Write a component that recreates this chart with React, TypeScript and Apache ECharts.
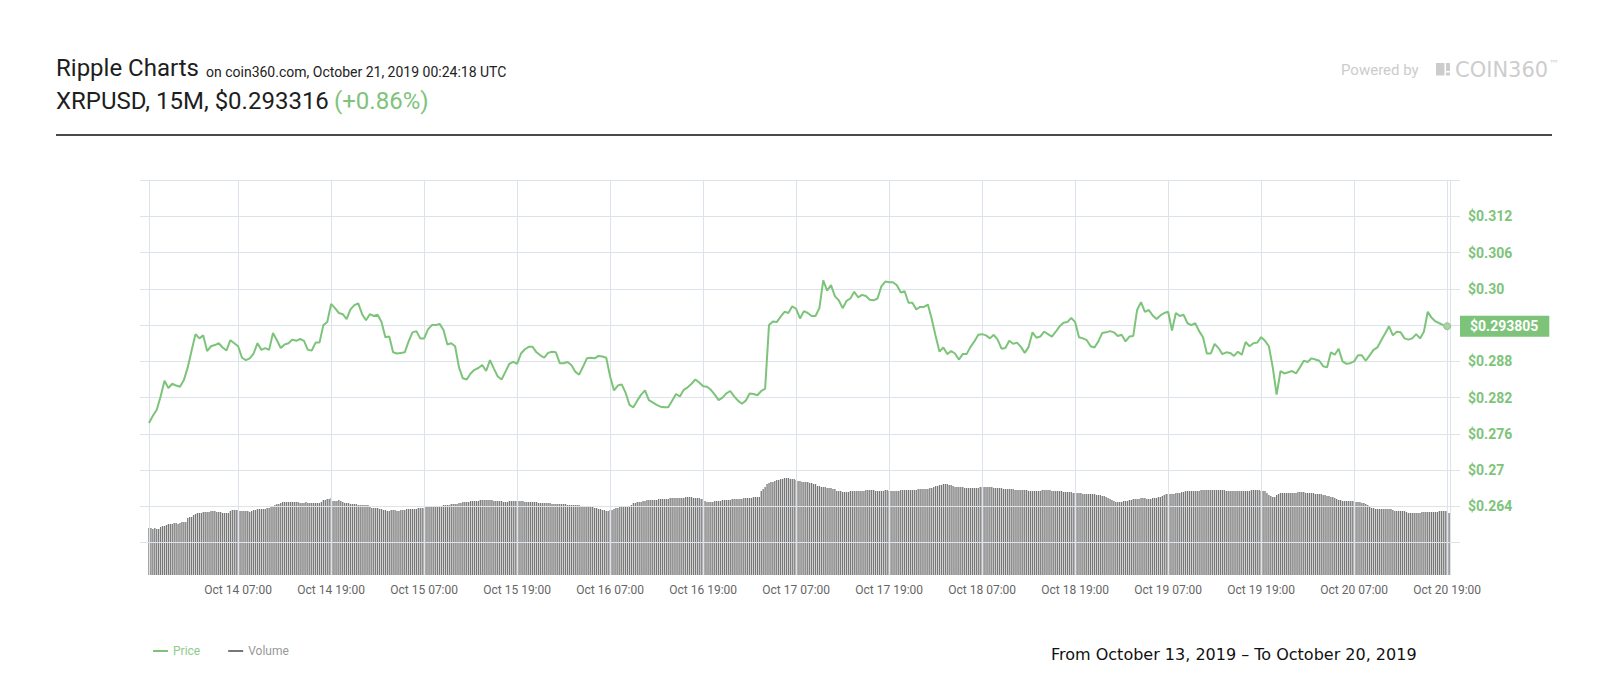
import React, { useEffect, useRef } from "react";
import * as echarts from "echarts";

const GREEN = "#7dc47a";

// x values are hours counted from Oct 13, 2019 07:00 UTC
const priceStartHour = 12.5; // Oct 13 19:30
const priceStepHours = 0.5;
const prices = [
  0.2778, 0.279, 0.28, 0.2822, 0.2848, 0.2836, 0.2843, 0.284, 0.2838, 0.2849, 0.287, 0.2898,
  0.2925, 0.2918, 0.2923, 0.2897, 0.2905, 0.2907, 0.291, 0.2903, 0.2898, 0.2915, 0.291, 0.2905,
  0.2886, 0.2882, 0.2885, 0.2893, 0.291, 0.2899, 0.2902, 0.2899, 0.2927, 0.2915, 0.2902, 0.2908,
  0.291, 0.2916, 0.2914, 0.2917, 0.2914, 0.2899, 0.2898, 0.2911, 0.2911, 0.294, 0.2945, 0.2975,
  0.2968, 0.296, 0.2958, 0.295, 0.2966, 0.2973, 0.2976, 0.2958, 0.2948, 0.2958, 0.2955, 0.2957,
  0.2945, 0.292, 0.2921, 0.2895, 0.2893, 0.2894, 0.2895, 0.2913, 0.2928, 0.293, 0.2918, 0.2918,
  0.2933, 0.294, 0.294, 0.2942, 0.2932, 0.2908, 0.291, 0.2905, 0.287, 0.2852, 0.285, 0.286,
  0.2866, 0.2869, 0.2874, 0.2864, 0.2882, 0.2868, 0.2855, 0.285, 0.2863, 0.2876, 0.2879, 0.2876,
  0.2893, 0.29, 0.2904, 0.2904, 0.2895, 0.289, 0.2886, 0.2894, 0.2896, 0.2895, 0.2877, 0.2877,
  0.2879, 0.2874, 0.2863, 0.2858, 0.2871, 0.2885, 0.2886, 0.2885, 0.2889, 0.2888, 0.2886, 0.2855,
  0.2832, 0.284, 0.2842, 0.2828, 0.2808, 0.2804, 0.2815, 0.2825, 0.2832, 0.2816, 0.2812, 0.2808,
  0.2805, 0.2804, 0.2804, 0.2815, 0.2826, 0.2822, 0.2833, 0.2837, 0.2843, 0.285, 0.2845, 0.2839,
  0.2838, 0.2833, 0.2825, 0.2816, 0.282, 0.2827, 0.2831, 0.2822, 0.2815, 0.281, 0.2815, 0.2827,
  0.2826, 0.2824, 0.2831, 0.2835, 0.294, 0.2946, 0.2945, 0.2954, 0.2962, 0.296, 0.2971, 0.2967,
  0.2951, 0.2963, 0.296, 0.2955, 0.2955, 0.2968, 0.3014, 0.2997, 0.3006, 0.2988, 0.2981, 0.2968,
  0.298, 0.2984, 0.2995, 0.2986, 0.299, 0.2988, 0.2982, 0.2981, 0.2984, 0.3004, 0.3012, 0.3011,
  0.3011, 0.3006, 0.2994, 0.2996, 0.2977, 0.2977, 0.2966, 0.297, 0.297, 0.2974, 0.295, 0.2922,
  0.2896, 0.2903, 0.2892, 0.2897, 0.2893, 0.2883, 0.2892, 0.2892, 0.2904, 0.2913, 0.2924, 0.2925,
  0.2923, 0.2918, 0.2924, 0.2916, 0.2901, 0.2902, 0.2914, 0.2909, 0.2911, 0.2904, 0.2894, 0.2904,
  0.2928, 0.2919, 0.2921, 0.2929, 0.2925, 0.2921, 0.2929, 0.2938, 0.2944, 0.2945, 0.2952, 0.2945,
  0.292, 0.2918, 0.2915, 0.2905, 0.2903, 0.2913, 0.2927, 0.2928, 0.293, 0.2928, 0.2922, 0.2924,
  0.2913, 0.2921, 0.2922, 0.2965, 0.2978, 0.2962, 0.2965, 0.2956, 0.295, 0.2956, 0.296, 0.2962,
  0.2931, 0.296, 0.2955, 0.2957, 0.2943, 0.294, 0.2943, 0.293, 0.292, 0.2893, 0.2893, 0.2909,
  0.2902, 0.2892, 0.2895, 0.2894, 0.2889, 0.2896, 0.2891, 0.2912, 0.2905, 0.291, 0.2911, 0.292,
  0.2914, 0.2905, 0.287, 0.2825, 0.2864, 0.286, 0.2862, 0.2864, 0.286, 0.287, 0.2881, 0.2879,
  0.2885, 0.2883, 0.2881, 0.2872, 0.287, 0.2895, 0.2891, 0.2901, 0.288, 0.2876, 0.2877, 0.288,
  0.289, 0.289, 0.2881, 0.289, 0.2899, 0.2903, 0.2915, 0.2926, 0.2938, 0.2923, 0.2929, 0.2928,
  0.2918, 0.2916, 0.2918, 0.2925, 0.2918, 0.2929, 0.2962, 0.2952, 0.2946, 0.2943, 0.294, 0.293805,
];

const volumeStartHour = 12.5;
const volumeStepHours = 0.25;
// 15-minute volume bars (relative units)
const volumes = [
  47, 47, 46, 47, 46, 46, 48, 49, 49, 50, 51, 51, 51, 52, 52, 51, 52, 53, 53, 53,
  57, 58, 58, 60, 61, 62, 62, 62, 63, 63, 63, 63, 64, 64, 64, 63, 63, 63, 62, 62,
  62, 62, 64, 65, 65, 65, 65, 64, 64, 64, 64, 64, 63, 64, 65, 65, 66, 66, 66, 66,
  66, 67, 67, 68, 68, 70, 71, 71, 72, 73, 73, 73, 73, 73, 73, 73, 73, 73, 72, 72,
  72, 73, 72, 72, 72, 72, 72, 72, 72, 73, 75, 75, 76, 76, 77, 74, 74, 74, 75, 74,
  73, 72, 72, 72, 71, 71, 71, 71, 70, 70, 70, 70, 70, 70, 68, 67, 67, 67, 67, 66,
  66, 65, 65, 64, 64, 65, 65, 65, 64, 64, 65, 65, 65, 66, 66, 66, 66, 66, 66,
  67, 67, 67, 67, 68, 68, 68, 68, 68, 69, 69, 69, 69, 70, 70, 70, 70, 71, 71, 71, 71,
  72, 72, 73, 73, 73, 73, 74, 74, 74, 74, 74, 75, 75, 75, 75, 75, 75, 75, 74, 74, 74, 74, 74, 73, 73, 73, 74,
  74, 74, 74, 74, 74, 74, 74, 73, 73, 73, 73, 73, 73, 73, 72, 72, 72, 72, 72, 72, 72, 71, 71, 71, 71, 71,
  71, 71, 71, 70, 70, 70, 70, 70, 70, 70, 69, 69, 69, 69, 68, 68, 68, 67, 67, 66, 66,
  65, 65, 64, 64, 65, 65,
  66, 67, 67, 68, 68, 68, 68, 69, 69, 70,
  72, 72, 73, 73, 73,
  74, 74, 75, 75, 75, 75, 75, 75, 76, 76, 76, 76, 76, 76, 77, 77, 77, 77, 77, 77, 77, 77, 78, 78, 78, 78, 77, 77, 77, 77, 76, 76,
  74, 73, 73, 73, 73,
  74, 74, 74, 74, 75, 75, 75, 75, 75, 76, 76, 76, 76, 76, 76, 77, 77, 77, 77, 77, 78, 78, 78, 78,
  84, 86, 88,
  91, 92, 93, 93, 94,
  95, 95, 96, 96, 97, 97, 97, 96, 96, 96, 95,
  94, 94, 93, 93, 93, 93, 92, 92, 91, 91,
  89, 89, 88, 88, 88, 87, 87, 87, 86, 86,
  84, 84, 84, 83, 83, 83, 83, 84, 84, 84, 84, 84, 84, 84, 84, 85, 85, 85, 85, 85, 84, 84, 84, 84, 84, 85, 85,
  84, 84, 84, 84, 84, 84, 85, 85, 85, 85, 85, 85, 85, 85, 85, 86, 86, 86, 86, 86, 86, 87, 87, 88, 89, 89,
  90, 90, 91, 91, 91, 90, 90, 89,
  88, 88, 88, 88, 88, 87, 87, 87,
  87, 87, 87, 87, 87, 88, 88, 88, 88, 88, 88, 88, 87, 87, 87, 87, 87, 86, 86, 86, 86, 86, 86, 85, 85, 85,
  85, 85, 85, 85, 84, 84, 84, 84, 84, 84, 84, 85, 85, 85, 85, 85, 84, 84, 84, 84, 84, 84, 83, 83, 83, 83, 83,
  82, 82, 82, 82, 82, 81, 81, 81, 81, 81, 81, 81, 80, 80, 80, 79, 79, 78, 77, 76, 75,
  74, 73, 73, 73, 73, 74, 74, 74, 75, 75,
  76, 76, 76, 76, 77, 77, 77, 76, 76, 76, 77, 77, 77, 78, 78, 79,
  80, 81, 81, 81, 81, 81, 82, 82, 82, 83, 83,
  84, 84, 84, 84, 84, 84, 84, 84, 85, 85, 85, 85, 85, 85, 85, 85, 85, 85, 85, 85, 85,
  84, 84, 84, 84, 84, 84, 84, 84, 84, 84, 84, 84, 84, 85, 85, 85, 85, 85, 84, 84, 84,
  82, 80, 79, 78, 78,
  80, 81, 82, 82, 82, 82, 82, 82, 82, 82, 82, 83, 83, 83, 83, 82, 82, 82, 82, 82, 81, 81, 81, 81, 80, 80,
  79, 79, 78, 78, 77, 76,
  75, 75, 74, 74, 74, 74, 74, 74, 74, 73, 73, 73, 72, 72, 71, 70,
  68, 67, 67, 66, 66, 66, 66, 66, 66, 66, 66, 66, 65, 64, 64, 64, 64, 64, 64, 63,
  62, 62, 62, 62, 62, 62, 62, 63, 63, 63, 63, 63, 63, 63, 63, 63, 64, 64, 64, 64, 64, 62,
];

const xTickHours = [24, 36, 48, 60, 72, 84, 96, 108, 120, 132, 144, 156, 168, 180];
const xTickLabels = [
  "Oct 14 07:00", "Oct 14 19:00", "Oct 15 07:00", "Oct 15 19:00", "Oct 16 07:00",
  "Oct 16 19:00", "Oct 17 07:00", "Oct 17 19:00", "Oct 18 07:00", "Oct 18 19:00",
  "Oct 19 07:00", "Oct 19 19:00", "Oct 20 07:00", "Oct 20 19:00",
];
const plotEdgeHours = [12.5, 180.4];

const yTickValues = [0.312, 0.306, 0.3, 0.288, 0.282, 0.276, 0.27, 0.264];
const yTickLabels = ["$0.312", "$0.306", "$0.30", "$0.288", "$0.282", "$0.276", "$0.27", "$0.264"];
const priceGridLevels = [0.258, 0.264, 0.27, 0.276, 0.282, 0.288, 0.294, 0.3, 0.306, 0.312, 0.318];

const lastPrice = 0.293805;
const lastPriceLabel = "$0.293805";

export default function App() {
  const ref = useRef<HTMLDivElement>(null);

  useEffect(() => {
    if (!ref.current) return;
    const chart = echarts.init(ref.current, undefined, { renderer: "svg" });

    const priceData = prices.map((p, i) => [priceStartHour + i * priceStepHours, p]);
    const volumeData = volumes.map((v, i) => [volumeStartHour + i * volumeStepHours, v]);
    const lastPoint = priceData[priceData.length - 1];

    const VOL_MIN = -4;
    const VOL_MAX = 395;

    const gridLineStyle = { color: "#dce3ea", width: 1, type: "solid" as const };

    chart.setOption({
      animation: false,
      textStyle: { fontFamily: "Roboto" },
      grid: { left: 140, right: 140, top: 180, bottom: 121, outerBoundsMode: "none", containLabel: false },
      legend: {
        left: 148,
        top: 640,
        icon: "rect",
        itemWidth: 15,
        itemHeight: 2,
        itemGap: 28,
        selectedMode: false,
        textStyle: { fontSize: 12, fontFamily: "Roboto" },
        data: [
          { name: "Price", textStyle: { color: "#8ecb8b" } },
          { name: "Volume", textStyle: { color: "#999" } },
        ],
      },
      xAxis: {
        type: "value",
        min: 11.34,
        max: 181.66,
        axisLine: { show: false },
        axisTick: { show: false },
        splitLine: { show: false },
        axisLabel: {
          customValues: xTickHours,
          color: "#666",
          fontSize: 12,
          margin: 5,
          formatter: (v: number) => {
            const idx = xTickHours.findIndex((h) => Math.abs(h - v) < 1e-6);
            return idx >= 0 ? xTickLabels[idx] : "";
          },
        },
      },
      yAxis: [
        {
          type: "value",
          position: "right",
          min: 0.252,
          max: 0.318,
          interval: 0.006,
          axisLine: { show: false },
          axisTick: { show: false },
          splitLine: { show: false },
          axisLabel: {
            color: GREEN,
            fontSize: 14,
            fontWeight: "bold",
            margin: 8,
            formatter: (v: number) => {
              const idx = yTickValues.findIndex((t) => Math.abs(t - v) < 1e-6);
              return idx >= 0 ? yTickLabels[idx] : "";
            },
          },
        },
        {
          type: "value",
          min: VOL_MIN,
          max: VOL_MAX,
          show: false,
          splitLine: { show: false },
        },
      ],
      series: [
        {
          name: "Volume",
          type: "bar",
          yAxisIndex: 1,
          z: 1,
          data: volumeData,
          barWidth: 1.3,
          itemStyle: { color: "#777" },
          silent: true,
        },
        {
          name: "gridH",
          type: "line",
          yAxisIndex: 0,
          data: [],
          markLine: {
            z: 2,
            precision: 6,
            silent: true,
            symbol: ["none", "none"],
            label: { show: false },
            lineStyle: gridLineStyle,
            data: priceGridLevels.map((v) => ({ yAxis: v })),
          },
        },
        {
          name: "gridV",
          type: "line",
          yAxisIndex: 1,
          data: [],
          markLine: {
            z: 2,
            precision: 6,
            silent: true,
            symbol: ["none", "none"],
            label: { show: false },
            lineStyle: gridLineStyle,
            data: [...xTickHours, ...plotEdgeHours].map((h) => [
              { coord: [h, 0] },
              { coord: [h, VOL_MAX] },
            ]),
          },
        },
        {
          name: "Price",
          type: "line",
          yAxisIndex: 0,
          z: 3,
          data: priceData,
          showSymbol: false,
          symbol: "none",
          lineStyle: { color: GREEN, width: 2 },
          itemStyle: { color: GREEN },
          silent: true,
          markPoint: {
            z: 5,
            symbol: "circle",
            symbolSize: 7,
            silent: true,
            label: { show: false },
            itemStyle: { color: "#a9d3a6", borderColor: "#8fbf8c", borderWidth: 1 },
            data: [{ coord: lastPoint }],
          },
        },
        {
          name: "priceTag",
          type: "line",
          yAxisIndex: 0,
          data: [],
          z: 6,
          markLine: {
            z: 6,
            precision: 6,
            silent: true,
            symbol: ["none", "none"],
            lineStyle: { color: "rgba(255,255,255,0)", width: 1, type: "solid" },
            label: {
              show: true,
              position: "end",
              distance: 0,
              formatter: lastPriceLabel,
              color: "#ffffff",
              fontSize: 14,
              fontWeight: "bold",
              fontFamily: "Roboto",
              backgroundColor: GREEN,
              padding: [4, 11, 3, 10],
            },
            data: [{ yAxis: lastPrice }],
          },
        },
      ],
      graphic: [
        { type: "text", x: 56, y: 68, style: { text: "Ripple Charts", fontSize: 24, fontFamily: "Roboto", fill: "#1e1e1e", verticalAlign: "middle" } },
        { type: "text", x: 206, y: 72, style: { text: "on coin360.com, October 21, 2019 00:24:18 UTC", fontSize: 14, fontFamily: "Roboto", fill: "#222", verticalAlign: "middle" } },
        { type: "text", x: 56, y: 101, style: { text: "XRPUSD, 15M, $0.293316", fontSize: 24, fontFamily: "Roboto", fill: "#1e1e1e", verticalAlign: "middle" } },
        { type: "text", x: 334, y: 101, style: { text: "(+0.86%)", fontSize: 24, fontFamily: "Roboto", fill: GREEN, verticalAlign: "middle" } },
        { type: "line", shape: { x1: 56, y1: 135, x2: 1552, y2: 135 }, style: { stroke: "#4a4a4a", lineWidth: 2 } },
        { type: "text", x: 1341, y: 70, style: { text: "Powered by", fontSize: 15, fontFamily: "Roboto", fill: "#cccccc", verticalAlign: "middle" } },
        { type: "rect", shape: { x: 1436, y: 63, width: 8.5, height: 12.5 }, style: { fill: "#cccccc" } },
        { type: "rect", shape: { x: 1446, y: 63, width: 4, height: 8 }, style: { fill: "#cccccc" } },
        { type: "rect", shape: { x: 1446, y: 72.5, width: 4, height: 3 }, style: { fill: "#cccccc" } },
        { type: "text", x: 1455, y: 69.5, style: { text: "COIN360", fontSize: 21, fontFamily: "DejaVu Sans", fill: "#cdcdcd", verticalAlign: "middle" } },
        { type: "text", x: 1549, y: 63, style: { text: "™", fontSize: 10, fontFamily: "DejaVu Sans", fill: "#cdcdcd", verticalAlign: "middle" } },
        { type: "text", x: 1051, y: 654, style: { text: "From October 13, 2019 – To October 20, 2019", fontSize: 16, fontFamily: "DejaVu Sans", fill: "#111", verticalAlign: "middle" } },
      ],
    });

    return () => chart.dispose();
  }, []);

  return (
    <div
      ref={ref}
      style={{ position: "fixed", left: 0, top: 0, width: 1600, height: 700, background: "#fff" }}
    />
  );
}
